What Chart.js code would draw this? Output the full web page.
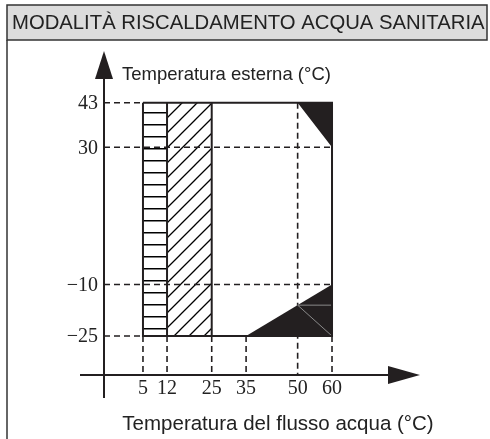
<!DOCTYPE html>
<html>
<head>
<meta charset="utf-8">
<script src="https://cdn.jsdelivr.net/npm/chart.js@4.4.1/dist/chart.umd.min.js"></script>
<style>
  html, body { margin: 0; padding: 0; background: #fff; }
  canvas { display: block; }
</style>
</head>
<body>
<canvas id="modeChart" width="490" height="439"></canvas>
<script>
// header and axis texts
const headerText = 'MODALITÀ RISCALDAMENTO ACQUA SANITARIA';
const yTitle = 'Temperatura esterna (°C)';
const xTitle = 'Temperatura del flusso acqua (°C)';

// ticks
const xTicks = [5, 12, 25, 35, 50, 60];
const xTickLabels = ['5', '12', '25', '35', '50', '60'];
const yTicks = [43, 30, -10, -25];
const yTickLabels = ['43', '30', '\u221210', '\u221225'];

// axis range (axis lines sit at the minimum of each scale)
const xRange = [-6.34, 85.6];
const yRange = [-36.36, 58.36];

// zones (x, y)
const barsZone = [[5, -25], [12, -25], [12, 43], [5, 43], [5, -25]];
const diagZone = [[12, -25], [25, -25], [25, 43], [12, 43], [12, -25]];
const topCorner = [[50, 43], [60, 43], [60, 30], [50, 43]];
const bottomCorner = [[35, -25], [60, -25], [60, -10], [35, -25]];

// solid outline of the working area
const outline = [[5, 43], [60, 43], [60, -25], [5, -25], [5, 43]];
const dividers = [[[12, -25], [12, 43]], [[25, -25], [25, 43]]];

// dashed guides: [y, end x] from the y axis, [x, start y] down to the x axis
const guideH = [[43, 5], [30, 60], [-10, 60], [-25, 5]];
const guideV = [[5, -25], [12, -25], [25, -25], [35, -25], [50, 43], [60, -25]];

// faint lines inside the lower black corner
const innerLines = [[[50, -16], [60, -16]], [[50, -16], [60, -25]]];

const ink = '#231f20';

function toPts(arr) {
    return arr.map(p => ({x: p[0], y: p[1]}));
}

// hatch patterns
function makePattern(kind) {
    const c = document.createElement('canvas');
    const g = c.getContext('2d');
    g.strokeStyle = ink;
    if (kind === 'h') {
        c.width = 12; c.height = 12;
        g.lineWidth = 1.5;
        g.beginPath();
        g.moveTo(0, 4.75); g.lineTo(12, 4.75);
        g.stroke();
    } else {
        c.width = 15; c.height = 15;
        g.lineWidth = 1.3;
        g.beginPath();
        g.moveTo(0, 15); g.lineTo(15, 0);
        g.moveTo(-2, 2); g.lineTo(2, -2);
        g.moveTo(13, 17); g.lineTo(17, 13);
        g.stroke();
    }
    return g.createPattern(c, 'repeat');
}

const datasets = [];

function zone(points, fillStyle, order) {
    datasets.push({
        data: toPts(points),
        showLine: true,
        fill: 'shape',
        backgroundColor: fillStyle,
        borderColor: 'rgba(0,0,0,0)',
        borderWidth: 0,
        pointRadius: 0,
        order: order
    });
}

function segment(points, color, width, dash, order) {
    datasets.push({
        data: toPts(points),
        showLine: true,
        fill: false,
        borderColor: color,
        borderWidth: width,
        borderDash: dash,
        borderCapStyle: 'butt',
        pointRadius: 0,
        order: order
    });
}

zone(barsZone, makePattern('h'), 9);
zone(diagZone, makePattern('d'), 9);

guideH.forEach(g => segment([[xRange[0], g[0]], [g[1], g[0]]], ink, 1.6, [6, 4], 7));
guideV.forEach(g => segment([[g[0], g[1]], [g[0], yRange[0]]], ink, 1.6, [6, 4], 7));

zone(topCorner, ink, 5);
zone(bottomCorner, ink, 5);

innerLines.forEach(s => segment(s, '#8a8a8a', 1, [], 4));

segment(outline, ink, 2, [], 1);
dividers.forEach(s => segment(s, ink, 2, [], 1));

// frame, header, axes with arrows, tick labels and titles
const decorations = {
    id: 'decorations',
    beforeDraw(chart) {
        const ctx = chart.ctx;
        ctx.save();
        ctx.fillStyle = '#fff';
        ctx.fillRect(0, 0, chart.width, chart.height);

        ctx.fillStyle = '#dcdcdc';
        ctx.fillRect(7, 5, 480, 35);
        ctx.strokeStyle = '#333';
        ctx.lineWidth = 1.5;
        ctx.strokeRect(7, 5, 480, 35);
        ctx.beginPath();
        ctx.moveTo(7, 40);
        ctx.lineTo(7, chart.height);
        ctx.stroke();

        ctx.fillStyle = '#222';
        ctx.font = '20.3px "Liberation Sans", Arial, sans-serif';
        ctx.textBaseline = 'middle';
        ctx.textAlign = 'left';
        ctx.fillText(headerText, 12, 23);
        ctx.restore();
    },
    afterDraw(chart) {
        const ctx = chart.ctx;
        const xs = chart.scales.x;
        const ys = chart.scales.y;
        const area = chart.chartArea;
        const ax = xs.getPixelForValue(xRange[0]);
        const ay = ys.getPixelForValue(yRange[0]);
        ctx.save();
        ctx.strokeStyle = ink;
        ctx.fillStyle = ink;
        ctx.lineWidth = 2;

        // y axis
        ctx.beginPath();
        ctx.moveTo(ax, area.top + 25);
        ctx.lineTo(ax, ay + 23);
        ctx.stroke();
        ctx.beginPath();
        ctx.moveTo(ax, area.top + 1);
        ctx.lineTo(ax + 9, area.top + 29);
        ctx.lineTo(ax - 9, area.top + 29);
        ctx.closePath();
        ctx.fill();

        // x axis
        ctx.beginPath();
        ctx.moveTo(ax - 24, ay);
        ctx.lineTo(area.right - 30, ay);
        ctx.stroke();
        ctx.beginPath();
        ctx.moveTo(area.right, ay);
        ctx.lineTo(area.right - 32, ay - 9);
        ctx.lineTo(area.right - 32, ay + 9);
        ctx.closePath();
        ctx.fill();

        // tick labels
        ctx.fillStyle = '#222';
        ctx.font = '20px "Liberation Serif", "Times New Roman", serif';
        ctx.textBaseline = 'middle';
        ctx.textAlign = 'right';
        yTicks.forEach((v, i) => ctx.fillText(yTickLabels[i], ax - 6, ys.getPixelForValue(v) + 1));
        ctx.textAlign = 'center';
        xTicks.forEach((v, i) => ctx.fillText(xTickLabels[i], xs.getPixelForValue(v), ay + 14));

        // titles
        ctx.font = '18.5px "Liberation Sans", Arial, sans-serif';
        ctx.textAlign = 'left';
        ctx.fillText(yTitle, ax + 18, area.top + 25);
        ctx.font = '20.5px "Liberation Sans", Arial, sans-serif';
        ctx.textAlign = 'center';
        ctx.fillText(xTitle, 278, ay + 49);
        ctx.restore();
    }
};

const chart = new Chart(document.getElementById('modeChart'), {
    type: 'scatter',
    data: {datasets: datasets},
    options: {
        responsive: false,
        animation: false,
        layout: {padding: {left: 104, right: 70, top: 50, bottom: 64}},
        scales: {
            x: {type: 'linear', display: false, min: xRange[0], max: xRange[1]},
            y: {type: 'linear', display: false, min: yRange[0], max: yRange[1]}
        },
        elements: {line: {tension: 0}},
        datasets: {scatter: {clip: false}},
        plugins: {
            legend: {display: false},
            tooltip: {enabled: false}
        }
    },
    plugins: [decorations]
});
</script>
</body>
</html>
